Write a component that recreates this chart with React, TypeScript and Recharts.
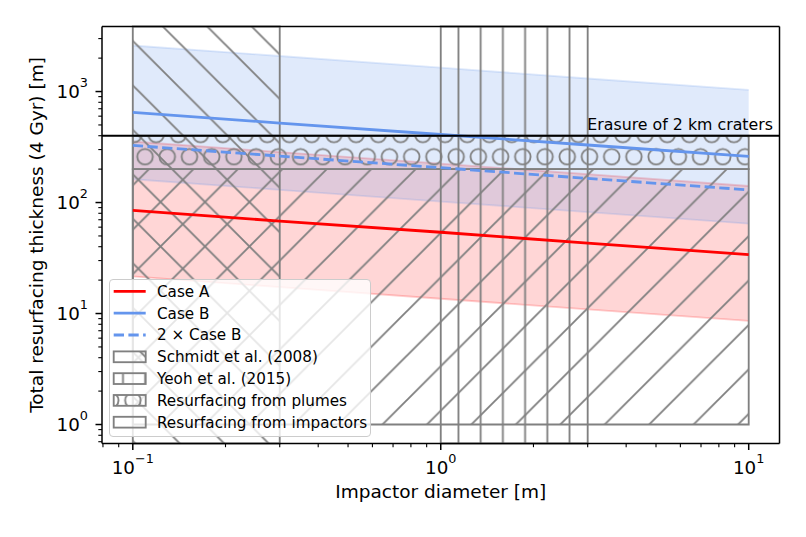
import React from "react";
import {
  ComposedChart,
  Area,
  Line,
  XAxis,
  YAxis,
  ReferenceArea,
  ReferenceLine,
  Legend,
  Label,
} from "recharts";

// values (log-log)
const diameters = [0.1, 0.3, 1, 3, 10];
const caseA = [85, 68, 54, 43, 34];
const caseALow = [21.6, 17.3, 13.6, 10.9, 8.6];
const caseAHigh = [355, 285, 224, 180, 141];
const caseB = [650, 520, 410, 330, 260];
const caseBLow = [162, 130, 102, 82, 64.5];
const caseBHigh = [2600, 2090, 1640, 1310, 1035];
const caseBx2 = [327, 262, 206, 165, 130];

const schmidtSpan = [0.1, 0.3];
const yeohSpan = [1, 3];
const regionSpan = [0.1, 10];
const plumesDepth = [200, 400];
const impactorsDepth = [1, 200];
const erasureDepth = 400;

const xTicks = [
  0.08, 0.09, 0.1, 0.2, 0.3, 0.4, 0.5, 0.6, 0.7, 0.8, 0.9, 1, 2, 3, 4, 5, 6, 7, 8, 9, 10,
];
const yTicks = [
  0.7, 0.8, 0.9, 1, 2, 3, 4, 5, 6, 7, 8, 9, 10, 20, 30, 40, 50, 60, 70, 80, 90, 100, 200,
  300, 400, 500, 600, 700, 800, 900, 1000, 2000, 3000,
];
const legendLabels = [
  "Case A",
  "Case B",
  "2 \u00d7 Case B",
  "Schmidt et al. (2008)",
  "Yeoh et al. (2015)",
  "Resurfacing from plumes",
  "Resurfacing from impactors",
];

const rows = diameters.map((x, i) => ({
  x,
  caseA: caseA[i],
  caseB: caseB[i],
  caseBx2: caseBx2[i],
  bandA: [caseALow[i], caseAHigh[i]],
  bandB: [caseBLow[i], caseBHigh[i]],
}));

const FONT = "DejaVu Sans";
const RED = "#ff0000";
const BLUE = "#6495ed";
const GREY = "#808080";
const S = 22.222;
const D = 44.444;
const xDomain = [Math.pow(10, -1.1), Math.pow(10, 1.1)];
const yDomain = [Math.pow(10, -0.171), Math.pow(10, 3.586)];

const isMajor = (v: number) => Math.abs(Math.log10(v) - Math.round(Math.log10(v))) < 1e-6;
const expText = (v: number) => {
  const n = Math.round(Math.log10(v));
  return n < 0 ? "\u2212" + Math.abs(n) : String(n);
};

const XTick = (props: any) => {
  const { x, y, payload } = props;
  const major = isMajor(payload.value);
  return (
    <g>
      <line x1={x} x2={x} y1={y} y2={y + (major ? 6.5 : 3.7)} stroke="#000" strokeWidth={major ? 1.5 : 1.1} />
      {major && (
        <text x={x} y={y + 30} textAnchor="middle" fontSize={18.3} fontFamily={FONT} fill="#000">
          10
          <tspan dy={-11} fontSize={12.8}>
            {expText(payload.value)}
          </tspan>
        </text>
      )}
    </g>
  );
};

const YTick = (props: any) => {
  const { x, y, payload } = props;
  const major = isMajor(payload.value);
  return (
    <g>
      <line x1={x - (major ? 6.5 : 3.7)} x2={x} y1={y} y2={y} stroke="#000" strokeWidth={major ? 1.5 : 1.1} />
      {major && (
        <text x={x - 14} y={y + 6.7} textAnchor="end" fontSize={18.3} fontFamily={FONT} fill="#000">
          10
          <tspan dy={-11} fontSize={12.8}>
            {expText(payload.value)}
          </tspan>
        </text>
      )}
    </g>
  );
};

const XLabel = (props: any) => {
  const vb = props.viewBox;
  return (
    <text x={vb.x + vb.width / 2} y={vb.y + 54.5} textAnchor="middle" fontSize={18.5} fontFamily={FONT} fill="#000">
      Impactor diameter [m]
    </text>
  );
};

const YLabel = (props: any) => {
  const vb = props.viewBox;
  const cx = vb.x + 42.7;
  const cy = vb.y + vb.height / 2;
  return (
    <text
      x={cx}
      y={cy}
      transform={`rotate(-90 ${cx} ${cy})`}
      textAnchor="middle"
      fontSize={18.5}
      fontFamily={FONT}
      fill="#000"
    >
      Total resurfacing thickness (4 Gyr) [m]
    </text>
  );
};

const ErasureLabel = (props: any) => {
  const vb = props.viewBox;
  return (
    <text x={vb.x + vb.width - 6.5} y={vb.y - 6} textAnchor="end" fontSize={15.8} fontFamily={FONT} fill="#000">
      Erasure of 2 km craters
    </text>
  );
};

const handles: any[] = [
  { line: RED },
  { line: BLUE },
  { line: BLUE, dash: "10.3 4.4" },
  { hatch: "hatchBack" },
  { hatch: "hatchVert" },
  { hatch: "legendCircles" },
  { hatch: "none" },
];

const LegendBox = () => (
  <div
    style={{
      position: "relative",
      width: 261.5,
      height: 157.5,
      boxSizing: "border-box",
      border: "1.5px solid #cccccc",
      borderRadius: 4,
      background: "rgba(255,255,255,0.8)",
    }}
  >
    <svg width={261.5} height={157.5} style={{ position: "absolute", left: -1.5, top: -1.5 }}>
      {legendLabels.map((label, i) => {
        const cy = 12.4 + i * 21.8;
        const h = handles[i];
        return (
          <g key={label}>
            {h.line ? (
              <line x1={4.7} x2={36.7} y1={cy} y2={cy} stroke={h.line} strokeWidth={2.8} strokeDasharray={h.dash} />
            ) : (
              <rect
                x={4.7}
                y={cy - 5.4}
                width={32}
                height={10.8}
                fill={h.hatch === "none" ? "none" : `url(#${h.hatch})`}
                stroke={GREY}
                strokeWidth={1.85}
              />
            )}
            <text x={48} y={cy + 5.4} fontSize={15.2} fontFamily={FONT} fill="#000">
              {label}
            </text>
          </g>
        );
      })}
    </svg>
  </div>
);

const circleTile = (
  <>
    <circle cx={S / 2} cy={S / 2} r={7.8} stroke={GREY} strokeWidth={1.85} fill="none" />
    <circle cx={0} cy={1.5 * S} r={7.8} stroke={GREY} strokeWidth={1.85} fill="none" />
    <circle cx={S} cy={1.5 * S} r={7.8} stroke={GREY} strokeWidth={1.85} fill="none" />
  </>
);

const Patterns = () => (
  <svg width={0} height={0} style={{ position: "absolute" }}>
    <defs>
      <pattern id="hatchBack" patternUnits="userSpaceOnUse" width={D} height={D} x={3} y={0}>
        <path
          d={`M0,0L${D},${D}M${D - 3},-3L${D + 3},3M-3,${D - 3}L3,${D + 3}`}
          stroke={GREY}
          strokeWidth={1.85}
          fill="none"
        />
      </pattern>
      <pattern id="hatchFwd" patternUnits="userSpaceOnUse" width={D} height={D} x={7} y={0}>
        <path
          d={`M0,${D}L${D},0M-3,3L3,-3M${D - 3},${D + 3}L${D + 3},${D - 3}`}
          stroke={GREY}
          strokeWidth={1.85}
          fill="none"
        />
      </pattern>
      <pattern id="hatchVert" patternUnits="userSpaceOnUse" width={S} height={S} x={14 - S / 2} y={0}>
        <path d={`M${S / 2},0V${S}`} stroke={GREY} strokeWidth={1.85} fill="none" />
      </pattern>
      <pattern id="hatchCircles" patternUnits="userSpaceOnUse" width={S} height={2 * S} x={0.6} y={12.3}>
        {circleTile}
      </pattern>
      <pattern id="legendCircles" patternUnits="userSpaceOnUse" width={S} height={2 * S} x={12.8} y={110.3}>
        {circleTile}
      </pattern>
    </defs>
  </svg>
);

export default function App() {
  return (
    <div style={{ position: "absolute", left: 0, top: 0, width: 806, height: 537, background: "#fff" }}>
      <Patterns />
      <ComposedChart width={806} height={537} data={rows} margin={{ top: 25.5, right: 25.5, bottom: 0, left: 0 }}>
        <XAxis
          dataKey="x"
          type="number"
          scale="log"
          domain={xDomain}
          allowDataOverflow
          ticks={xTicks}
          interval={0}
          tick={<XTick />}
          tickLine={false}
          tickSize={0}
          tickMargin={0}
          axisLine={{ stroke: "#000", strokeWidth: 1.5 }}
          height={93.5}
          label={<Label content={<XLabel />} />}
        />
        <XAxis
          xAxisId="top"
          orientation="top"
          type="number"
          scale="log"
          domain={xDomain}
          allowDataOverflow
          tick={false}
          tickLine={false}
          axisLine={{ stroke: "#000", strokeWidth: 1.5 }}
          height={1}
        />
        <YAxis
          type="number"
          scale="log"
          domain={yDomain}
          allowDataOverflow
          ticks={yTicks}
          interval={0}
          tick={<YTick />}
          tickLine={false}
          tickSize={0}
          tickMargin={0}
          axisLine={{ stroke: "#000", strokeWidth: 1.5 }}
          width={102}
          label={<Label content={<YLabel />} />}
        />
        <YAxis
          yAxisId="right"
          orientation="right"
          type="number"
          scale="log"
          domain={yDomain}
          allowDataOverflow
          tick={false}
          tickLine={false}
          axisLine={{ stroke: "#000", strokeWidth: 1.5 }}
          width={1}
        />

        <Area
          type="linear"
          dataKey="bandA"
          fill={RED}
          fillOpacity={0.16}
          stroke={RED}
          strokeOpacity={0.2}
          strokeWidth={1.85}
          dot={false}
          activeDot={false}
          legendType="none"
          isAnimationActive={false}
        />
        <Area
          type="linear"
          dataKey="bandB"
          fill={BLUE}
          fillOpacity={0.2}
          stroke={BLUE}
          strokeOpacity={0.2}
          strokeWidth={1.85}
          dot={false}
          activeDot={false}
          legendType="none"
          isAnimationActive={false}
        />

        <ReferenceArea
          x1={schmidtSpan[0]}
          x2={schmidtSpan[1]}
          fill="url(#hatchBack)"
          fillOpacity={1}
          stroke={GREY}
          strokeWidth={1.85}
        />
        <ReferenceArea
          x1={yeohSpan[0]}
          x2={yeohSpan[1]}
          fill="url(#hatchVert)"
          fillOpacity={1}
          stroke={GREY}
          strokeWidth={1.85}
        />
        <ReferenceArea
          x1={regionSpan[0]}
          x2={regionSpan[1]}
          y1={plumesDepth[0]}
          y2={plumesDepth[1]}
          fill="url(#hatchCircles)"
          fillOpacity={1}
          stroke={GREY}
          strokeWidth={1.85}
        />
        <ReferenceArea
          x1={regionSpan[0]}
          x2={regionSpan[1]}
          y1={impactorsDepth[0]}
          y2={impactorsDepth[1]}
          fill="url(#hatchFwd)"
          fillOpacity={1}
          stroke={GREY}
          strokeWidth={1.85}
        />

        <Line
          type="linear"
          dataKey="caseA"
          stroke={RED}
          strokeWidth={2.8}
          dot={false}
          activeDot={false}
          isAnimationActive={false}
        />
        <Line
          type="linear"
          dataKey="caseB"
          stroke={BLUE}
          strokeWidth={2.8}
          dot={false}
          activeDot={false}
          isAnimationActive={false}
        />
        <Line
          type="linear"
          dataKey="caseBx2"
          stroke={BLUE}
          strokeWidth={2.8}
          strokeDasharray="10.3 4.4"
          dot={false}
          activeDot={false}
          isAnimationActive={false}
        />

        <ReferenceLine y={erasureDepth} stroke="#000" strokeWidth={1.85} label={<ErasureLabel />} />

        <Legend
          layout="horizontal"
          verticalAlign="middle"
          align="center"
          wrapperStyle={{ position: "absolute", left: 109.3, top: 279.3, width: 261.5, height: 157.5 }}
          content={<LegendBox />}
        />
      </ComposedChart>
    </div>
  );
}
